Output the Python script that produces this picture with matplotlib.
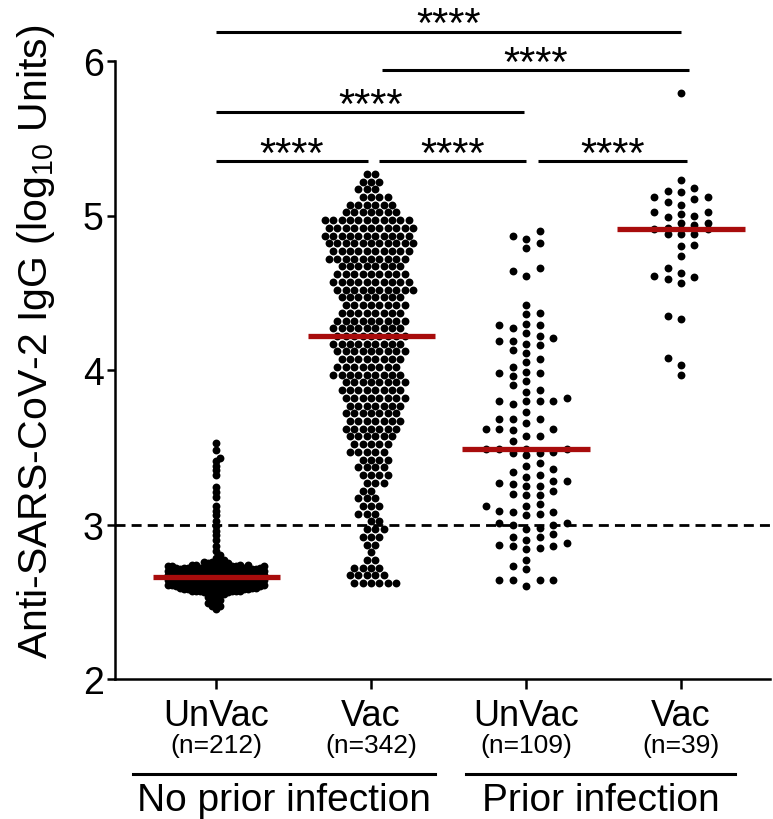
import numpy as np
import matplotlib
matplotlib.use("Agg")
import matplotlib.pyplot as plt
from matplotlib import transforms

plt.rcParams["font.family"] = ["Liberation Sans", "DejaVu Sans"]
plt.rcParams["mathtext.fontset"] = "custom"
plt.rcParams["mathtext.rm"] = "Liberation Sans"
plt.rcParams["mathtext.default"] = "regular"

# groups, left to right
group_names = ["UnVac", "Vac", "UnVac", "Vac"]
group_n = ["(n=212)", "(n=342)", "(n=109)", "(n=39)"]
infection_labels = ["No prior infection", "Prior infection"]

# no prior infection, unvaccinated: upper tail + dense blob (levels x counts)
unvac_tail = [3.53, 3.48, 3.43, 3.41, 3.38, 3.35, 3.32, 3.24, 3.21, 3.18, 3.12, 3.09,
              3.06, 3.02, 2.99, 2.96, 2.93, 2.90, 2.86, 2.83, 2.80, 2.78, 2.76]
unvac_levels = [2.77, 2.76, 2.75, 2.74, 2.73, 2.72, 2.71, 2.70, 2.69, 2.68, 2.67, 2.66,
                2.65, 2.64, 2.63, 2.62, 2.61, 2.60, 2.59, 2.58, 2.57, 2.56, 2.55,
                2.53, 2.51, 2.49, 2.47, 2.45]
unvac_counts = [1, 2, 3, 5, 7, 10, 10, 10, 11, 11, 11, 11,
                11, 11, 10, 11, 10, 8, 7, 7, 6, 4, 3,
                2, 2, 2, 2, 1]

# no prior infection, vaccinated (levels x counts)
vac_levels = [5.27, 5.22, 5.17, 5.12, 5.07, 5.02, 4.97, 4.92, 4.87, 4.82, 4.77, 4.72,
              4.67, 4.62, 4.57, 4.52, 4.47, 4.42, 4.37, 4.32, 4.27, 4.22, 4.17, 4.12,
              4.07, 4.02, 3.97, 3.92, 3.87, 3.82, 3.77, 3.72, 3.67, 3.62, 3.57, 3.52,
              3.47, 3.42, 3.37, 3.32, 3.27, 3.22, 3.17, 3.12, 3.07, 3.02, 2.97, 2.92,
              2.87, 2.82, 2.77, 2.72, 2.67, 2.62]
vac_counts = [2, 3, 3, 4, 6, 7, 11, 11, 11, 11, 10, 10,
              8, 9, 10, 10, 8, 8, 8, 9, 9, 9, 9, 9,
              8, 8, 9, 8, 8, 8, 7, 7, 7, 7, 6, 5,
              5, 4, 4, 4, 3, 2, 3, 3, 3, 2, 3, 3,
              2, 1, 2, 4, 5, 6]

prior_unvac = [4.90, 4.87, 4.85, 4.82, 4.79, 4.66, 4.64, 4.61,
               4.42, 4.37, 4.36, 4.30, 4.29, 4.29, 4.27, 4.24, 4.22, 4.21, 4.19, 4.19,
               4.17, 4.16, 4.13, 4.11, 4.07, 4.05, 4.02, 3.99, 3.98, 3.98, 3.96, 3.93,
               3.90, 3.87, 3.86, 3.82, 3.80, 3.80, 3.80, 3.80, 3.78,
               3.73, 3.68, 3.68, 3.68, 3.66, 3.62, 3.62, 3.62, 3.61, 3.57, 3.57, 3.54,
               3.49, 3.49, 3.49, 3.49, 3.47, 3.46, 3.46, 3.45,
               3.40, 3.38, 3.36, 3.34, 3.32, 3.31, 3.28, 3.28, 3.27, 3.26, 3.25, 3.25,
               3.22, 3.20, 3.19, 3.19, 3.13, 3.12, 3.12, 3.09, 3.08, 3.08, 3.07, 3.06,
               3.01, 3.01, 3.00, 3.00, 2.98, 2.97, 2.94, 2.92, 2.92, 2.90, 2.88, 2.87,
               2.86, 2.86, 2.85, 2.84, 2.77, 2.73, 2.71, 2.64, 2.64, 2.64, 2.64, 2.60]

prior_vac = [5.79, 5.23, 5.18, 5.16, 5.15, 5.12, 5.12, 5.11, 5.09, 5.07,
             5.02, 5.02, 5.01, 5.00, 4.99, 4.95, 4.95, 4.94, 4.92, 4.91,
             4.91, 4.91, 4.88, 4.88, 4.88, 4.81, 4.80, 4.74, 4.66, 4.63,
             4.61, 4.60, 4.59, 4.56, 4.35, 4.33, 4.08, 4.03, 3.97]

# comparisons: (x start, x end, bracket level)
bracket_x0 = [0.0, 1.07, 0.0, 0.0, 1.05, 2.08]
bracket_x1 = [3.0, 3.05, 1.99, 0.98, 2.0, 3.04]
bracket_y = [6.19, 5.94, 5.67, 5.35, 5.35, 5.35]
sig_label = "****"
threshold = 3.0

groups = [
    np.array(unvac_tail + list(np.repeat(unvac_levels, unvac_counts))),
    np.repeat(vac_levels, vac_counts),
    np.array(prior_unvac),
    np.array(prior_vac),
]

W, H = 773, 820
fig = plt.figure(figsize=(W / 100, H / 100), dpi=100)
ax = fig.add_axes([115 / W, 140 / H, 655 / W, 618 / H])
ax.set_xlim(-0.652, 3.574)
ax.set_ylim(2, 6)

x_px = 655 / (3.574 + 0.652)
y_px = 618 / 4.0


def swarm(vals, step, diam, max_col):
    """Column scatter: each point goes to the most central slot that does not overlap."""
    ys = np.asarray(vals) * y_px
    placed = []
    offs = np.zeros(len(ys))
    for k, i in enumerate(np.argsort(ys)):
        sign = 1 if k % 2 else -1
        cands = [0]
        for c in range(1, max_col + 1):
            cands += [sign * c, -sign * c]
        near = [(cx, y) for cx, y in placed if abs(y - ys[i]) < diam]
        pick, best = None, -1
        for c in cands:
            d = min([np.hypot((c - cx) * step, y - ys[i]) for cx, y in near] or [1e9])
            if d >= diam:
                pick = c
                break
            if d > best:
                pick, best = c, d
        placed.append((pick, ys[i]))
        offs[i] = pick * step / x_px
    return offs


layout = [(4.0, 3.5, 12), (4.2, 8.3, 12), (13.5, 9.0, 3), (13.4, 9.0, 2)]
for i, vals in enumerate(groups):
    step, diam, mc = layout[i]
    ax.scatter(i + swarm(vals, step, diam, mc), vals, s=32, color="black", linewidths=0, zorder=3, clip_on=False)
    med = np.median(vals)
    ax.plot([i - 0.41, i + 0.41], [med, med], color="#A80C0C", lw=3.8, zorder=4, solid_capstyle="butt")

ax.axhline(threshold, color="black", lw=2.0, ls=(0, (3.6, 2.2)), zorder=2)

# significance brackets
for x0, x1, lev in zip(bracket_x0, bracket_x1, bracket_y):
    ax.plot([x0, x1], [lev, lev], color="black", lw=2.2, clip_on=False, solid_capstyle="butt")
    ax.text((x0 + x1) / 2, lev - 0.03, sig_label, ha="center", va="baseline", fontsize=30, clip_on=False)

# axes styling
for side in ["top", "right"]:
    ax.spines[side].set_visible(False)
for side in ["left", "bottom"]:
    ax.spines[side].set_linewidth(1.8)
ax.set_yticks([2, 3, 4, 5, 6])
ax.set_xticks(range(4))
ax.set_xticklabels([""] * 4)
ax.tick_params(axis="y", length=6, width=1.8, labelsize=27, pad=2)
ax.tick_params(axis="x", length=7, width=1.8)
ax.set_ylabel("Anti-SARS-CoV-2 IgG (log$_{10}$ Units)", fontsize=29.5)
ax.yaxis.set_label_coords(-0.088, 0.547)

# category labels under the axis
tr = transforms.blended_transform_factory(ax.transData, fig.transFigure)
for i in range(4):
    ax.text(i, 1 - 717 / H, group_names[i], transform=tr, ha="center", va="center", fontsize=26)
    ax.text(i, 1 - 746 / H, group_n[i], transform=tr, ha="center", va="center", fontsize=19)
for (x0, x1), lab in zip([(-0.535, 1.41), (1.61, 3.35)], infection_labels):
    ax.plot([x0, x1], [1 - 775 / H] * 2, transform=tr, color="black", lw=2.2, clip_on=False)
    ax.text((x0 + x1) / 2, 1 - 801 / H, lab, transform=tr, ha="center", va="center", fontsize=28)

fig.savefig("out.png", dpi=100)
